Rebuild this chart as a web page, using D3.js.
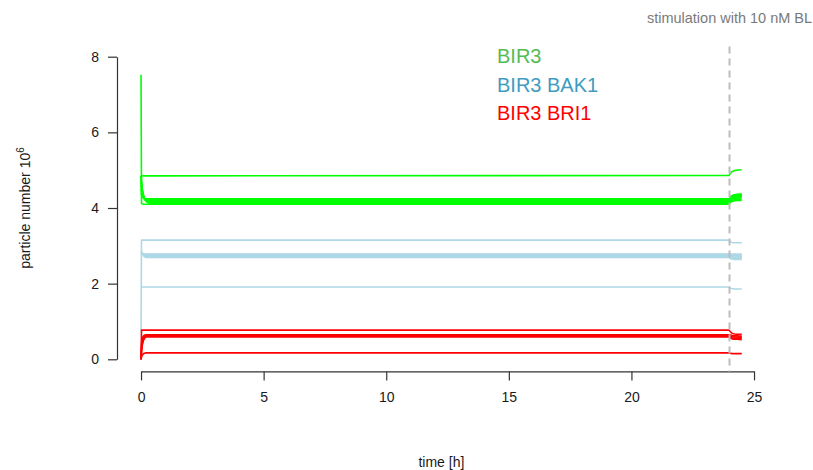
<!DOCTYPE html>
<html>
<head>
<meta charset="utf-8">
<script src="https://cdn.jsdelivr.net/npm/d3@7"></script>
<style>
  html, body { margin: 0; padding: 0; background: #ffffff; }
  svg { display: block; font-family: "Liberation Sans", Arial, sans-serif; }
</style>
</head>
<body>
<svg id="chart" width="813" height="470"></svg>
<script>
// Simulation time points (hours); stimulation with BL at t = 24 h
const times = [0, 0.02, 0.05, 0.1, 0.15, 0.2, 0.3, 0.4, 0.6, 23.98, 24.05, 24.1, 24.2, 24.3, 24.5];
const stimulationTime = 24;

// BIR3 trajectories (particle number, 10^6)
const bir3Runs = [
  [4.85, 4.85, 4.85, 4.85, 4.85, 4.85, 4.85, 4.85, 4.85, 4.86, 4.93, 4.96, 4.99, 5.00, 5.01],
  [7.52, 4.12, 4.11, 4.10, 4.10, 4.10, 4.10, 4.10, 4.10, 4.10, 4.15, 4.17, 4.19, 4.20, 4.20],
  [4.85, 4.70, 4.52, 4.34, 4.24, 4.18, 4.13, 4.12, 4.12, 4.12, 4.17, 4.20, 4.22, 4.23, 4.23],
  [4.85, 4.66, 4.48, 4.32, 4.24, 4.19, 4.15, 4.14, 4.14, 4.14, 4.20, 4.23, 4.25, 4.26, 4.27],
  [4.85, 4.62, 4.44, 4.30, 4.23, 4.19, 4.17, 4.16, 4.16, 4.16, 4.22, 4.25, 4.28, 4.29, 4.30],
  [4.70, 4.55, 4.40, 4.28, 4.22, 4.20, 4.18, 4.18, 4.18, 4.18, 4.24, 4.28, 4.30, 4.31, 4.32],
  [4.60, 4.48, 4.36, 4.27, 4.23, 4.21, 4.20, 4.20, 4.20, 4.20, 4.27, 4.30, 4.32, 4.33, 4.34],
  [4.50, 4.42, 4.33, 4.27, 4.24, 4.23, 4.22, 4.22, 4.22, 4.22, 4.29, 4.32, 4.34, 4.35, 4.36],
  [4.40, 4.35, 4.30, 4.27, 4.25, 4.24, 4.24, 4.24, 4.24, 4.24, 4.30, 4.33, 4.35, 4.36, 4.37]
];

// BIR3-BAK1 complex trajectories
const bir3Bak1Runs = [
  [0.73, 3.15, 3.15, 3.15, 3.15, 3.15, 3.15, 3.15, 3.15, 3.15, 3.10, 3.09, 3.08, 3.08, 3.08],
  [1.91, 1.91, 1.91, 1.91, 1.91, 1.91, 1.91, 1.91, 1.91, 1.91, 1.88, 1.87, 1.86, 1.86, 1.86],
  [2.84, 2.83, 2.80, 2.74, 2.71, 2.69, 2.69, 2.69, 2.69, 2.69, 2.66, 2.65, 2.64, 2.64, 2.64],
  [2.84, 2.83, 2.81, 2.76, 2.73, 2.71, 2.71, 2.71, 2.71, 2.71, 2.69, 2.68, 2.67, 2.67, 2.67],
  [2.83, 2.82, 2.81, 2.77, 2.75, 2.73, 2.73, 2.73, 2.73, 2.73, 2.71, 2.70, 2.70, 2.70, 2.70],
  [2.82, 2.81, 2.80, 2.78, 2.76, 2.75, 2.75, 2.75, 2.75, 2.75, 2.73, 2.73, 2.73, 2.72, 2.72],
  [2.80, 2.80, 2.79, 2.78, 2.77, 2.77, 2.77, 2.77, 2.77, 2.77, 2.76, 2.75, 2.75, 2.75, 2.75],
  [2.79, 2.79, 2.79, 2.78, 2.78, 2.78, 2.78, 2.78, 2.78, 2.78, 2.78, 2.78, 2.78, 2.78, 2.78]
];

// BIR3-BRI1 complex trajectories
const bir3Bri1Runs = [
  [0.00, 0.77, 0.77, 0.77, 0.77, 0.77, 0.77, 0.77, 0.77, 0.77, 0.72, 0.69, 0.67, 0.66, 0.66],
  [0.00, 0.20, 0.37, 0.50, 0.56, 0.59, 0.59, 0.59, 0.59, 0.59, 0.56, 0.54, 0.53, 0.53, 0.52],
  [0.00, 0.25, 0.42, 0.54, 0.59, 0.61, 0.61, 0.61, 0.61, 0.61, 0.58, 0.57, 0.56, 0.56, 0.55],
  [0.00, 0.30, 0.47, 0.58, 0.62, 0.63, 0.63, 0.63, 0.63, 0.63, 0.61, 0.60, 0.59, 0.59, 0.58],
  [0.00, 0.40, 0.56, 0.62, 0.64, 0.65, 0.65, 0.65, 0.65, 0.65, 0.64, 0.63, 0.62, 0.62, 0.61],
  [0.00, 0.06, 0.11, 0.15, 0.16, 0.17, 0.17, 0.17, 0.17, 0.17, 0.16, 0.15, 0.15, 0.15, 0.15]
];

const xTicks = [0, 5, 10, 15, 20, 25];
const yTicks = [0, 2, 4, 6, 8];
const legendLabels = ["BIR3", "BIR3 BAK1", "BIR3 BRI1"];
const lineColors = ["#00ff00", "#add8e6", "#ff0000"];
const legendColors = ["#55bb55", "#3f9cc0", "#ff0000"];
const stimulationLabel = "stimulation with 10 nM BL";

const svg = d3.select("#chart");

// Plot region (data range padded by 4% on each side)
const x = d3.scaleLinear().domain([-0.98, 25.48]).range([117, 765.8]);
const y = d3.scaleLinear().domain([-0.32, 8.32]).range([371.4, 44.6]);

const axisColor = "#333333";
const textColor = "#1a1a1a";

// X axis
const xAxisScale = d3.scaleLinear().domain([0, 25]).range([x(0), x(25)]);
const gx = svg.append("g")
  .attr("transform", `translate(0,${y(-0.32)})`)
  .call(d3.axisBottom(xAxisScale).tickValues(xTicks).tickSizeOuter(0).tickSizeInner(9).tickPadding(12).tickFormat(d3.format("d")));
gx.select(".domain").attr("stroke", axisColor).attr("stroke-width", 1.2);
gx.selectAll(".tick line").attr("stroke", axisColor).attr("stroke-width", 1.2);
gx.selectAll(".tick text").attr("font-size", 14).attr("fill", textColor).attr("font-family", "Liberation Sans, Arial, sans-serif");

// Y axis
const yAxisScale = d3.scaleLinear().domain([0, 8]).range([y(0), y(8)]);
const gy = svg.append("g")
  .attr("transform", `translate(${x(-0.98)},0)`)
  .call(d3.axisLeft(yAxisScale).tickValues(yTicks).tickSizeOuter(0).tickSizeInner(9).tickPadding(9).tickFormat(d3.format("d")));
gy.select(".domain").attr("stroke", axisColor).attr("stroke-width", 1.2);
gy.selectAll(".tick line").attr("stroke", axisColor).attr("stroke-width", 1.2);
gy.selectAll(".tick text").attr("font-size", 14).attr("fill", textColor).attr("font-family", "Liberation Sans, Arial, sans-serif");

// Axis titles
svg.append("text")
  .attr("x", (x.range()[0] + x.range()[1]) / 2)
  .attr("y", 467)
  .attr("text-anchor", "middle")
  .attr("font-size", 14)
  .attr("fill", textColor)
  .text("time [h]");

const yTitle = svg.append("text")
  .attr("transform", `translate(30,${(y.range()[0] + y.range()[1]) / 2}) rotate(-90)`)
  .attr("text-anchor", "middle")
  .attr("font-size", 14)
  .attr("fill", textColor);
yTitle.append("tspan").text("particle number 10");
yTitle.append("tspan").attr("dy", -6).attr("font-size", 10).text("6");

// Trajectories
const line = d3.line()
  .x((d, i) => x(times[i]))
  .y(d => y(d));

const groups = [bir3Runs, bir3Bak1Runs, bir3Bri1Runs];
groups.forEach((runs, gi) => {
  svg.append("g")
    .selectAll("path")
    .data(runs)
    .join("path")
    .attr("d", line)
    .attr("fill", "none")
    .attr("stroke", lineColors[gi])
    .attr("stroke-width", 1.6)
    .attr("stroke-linejoin", "round");
});

// Stimulation marker
svg.append("line")
  .attr("x1", x(stimulationTime)).attr("x2", x(stimulationTime))
  .attr("y1", y(8.32) + 2).attr("y2", y(-0.32))
  .attr("stroke", "#bdbdbd")
  .attr("stroke-width", 2)
  .attr("stroke-dasharray", "7,5");

svg.append("text")
  .attr("x", x(stimulationTime))
  .attr("y", 23)
  .attr("text-anchor", "middle")
  .attr("font-size", 14.5)
  .attr("fill", "#7a7a7a")
  .text(stimulationLabel);

// Legend
svg.append("g")
  .selectAll("text")
  .data(legendLabels)
  .join("text")
  .attr("x", 497)
  .attr("y", (d, i) => 63 + i * 28.5)
  .attr("font-size", 20)
  .attr("fill", (d, i) => legendColors[i])
  .text(d => d);
</script>
</body>
</html>
